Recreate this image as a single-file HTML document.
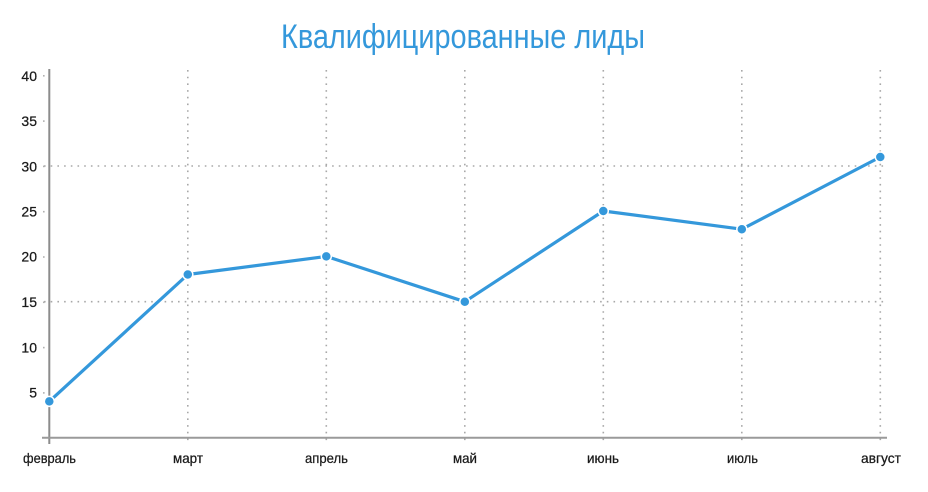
<!DOCTYPE html>
<html><head><meta charset="utf-8"><style>
html,body{margin:0;padding:0;background:#fff;}
svg{display:block;}
text{font-family:"Liberation Sans Narrow","Liberation Sans",sans-serif;}
</style></head><body>
<svg width="928" height="492" viewBox="0 0 928 492" xmlns="http://www.w3.org/2000/svg">
<rect width="928" height="492" fill="#fff"/>
<text x="463" y="48" text-anchor="middle" font-size="34" fill="#3498db" textLength="364" lengthAdjust="spacingAndGlyphs">Квалифицированные лиды</text>
<!-- horizontal grid -->
<g stroke="#a8a8a8" stroke-width="1.6" stroke-dasharray="1.6 5.1" fill="none">
<line x1="44" y1="166" x2="886" y2="166"/>
<line x1="44" y1="301.7" x2="886" y2="301.7"/>
</g>
<!-- vertical grid -->
<g stroke="#a8a8a8" stroke-width="1.6" stroke-dasharray="1.6 5.1" fill="none">
<line x1="187.8" y1="70" x2="187.8" y2="444"/>
<line x1="326.3" y1="70" x2="326.3" y2="444"/>
<line x1="464.8" y1="70" x2="464.8" y2="444"/>
<line x1="603.3" y1="70" x2="603.3" y2="444"/>
<line x1="741.8" y1="70" x2="741.8" y2="444"/>
<line x1="880.3" y1="70" x2="880.3" y2="444"/>
</g>
<!-- y ticks -->
<g fill="#b0b0b0">
<rect x="43" y="75" width="1.6" height="1.6"/>
<rect x="43" y="120.3" width="1.6" height="1.6"/>
<rect x="43" y="165.6" width="1.6" height="1.6"/>
<rect x="43" y="210.9" width="1.6" height="1.6"/>
<rect x="43" y="256.2" width="1.6" height="1.6"/>
<rect x="43" y="301.5" width="1.6" height="1.6"/>
<rect x="43" y="346.8" width="1.6" height="1.6"/>
<rect x="43" y="392.1" width="1.6" height="1.6"/>
</g>
<!-- axes -->
<line x1="49.3" y1="69" x2="49.3" y2="444" stroke="#8c8c8c" stroke-width="2"/>
<line x1="42" y1="437.7" x2="887" y2="437.7" stroke="#9a9a9a" stroke-width="2"/>
<!-- y labels -->
<g font-size="14" fill="#1a1a1a" stroke="#1a1a1a" stroke-width="0.25" text-anchor="end">
<text x="37" y="81">40</text>
<text x="37" y="126">35</text>
<text x="37" y="171.5">30</text>
<text x="37" y="216.5">25</text>
<text x="37" y="261.5">20</text>
<text x="37" y="307">15</text>
<text x="37" y="352.5">10</text>
<text x="37" y="397.5">5</text>
</g>
<!-- x labels -->
<g font-size="14" fill="#1a1a1a" stroke="#1a1a1a" stroke-width="0.25">
<text x="23" y="463" textLength="53" lengthAdjust="spacingAndGlyphs">февраль</text>
<text x="173" y="463" textLength="30" lengthAdjust="spacingAndGlyphs">март</text>
<text x="305" y="463" textLength="43" lengthAdjust="spacingAndGlyphs">апрель</text>
<text x="453" y="463" textLength="24" lengthAdjust="spacingAndGlyphs">май</text>
<text x="587" y="463" textLength="32" lengthAdjust="spacingAndGlyphs">июнь</text>
<text x="727" y="463" textLength="31" lengthAdjust="spacingAndGlyphs">июль</text>
<text x="861" y="463" textLength="40" lengthAdjust="spacingAndGlyphs">август</text>
</g>
<!-- series -->
<polyline fill="none" stroke="#3498db" stroke-width="3.2" stroke-linejoin="round" stroke-linecap="round"
 points="49.3,401.4 187.8,274.5 326.3,256.4 464.8,301.7 603.3,211 741.8,229.2 880.3,157"/>
<g fill="#3498db" stroke="#fff" stroke-width="1.5">
<circle cx="49.3" cy="401.4" r="5"/>
<circle cx="187.8" cy="274.5" r="5"/>
<circle cx="326.3" cy="256.4" r="5"/>
<circle cx="464.8" cy="301.7" r="5"/>
<circle cx="603.3" cy="211" r="5"/>
<circle cx="741.8" cy="229.2" r="5"/>
<circle cx="880.3" cy="157" r="5"/>
</g>
</svg>
</body></html>
